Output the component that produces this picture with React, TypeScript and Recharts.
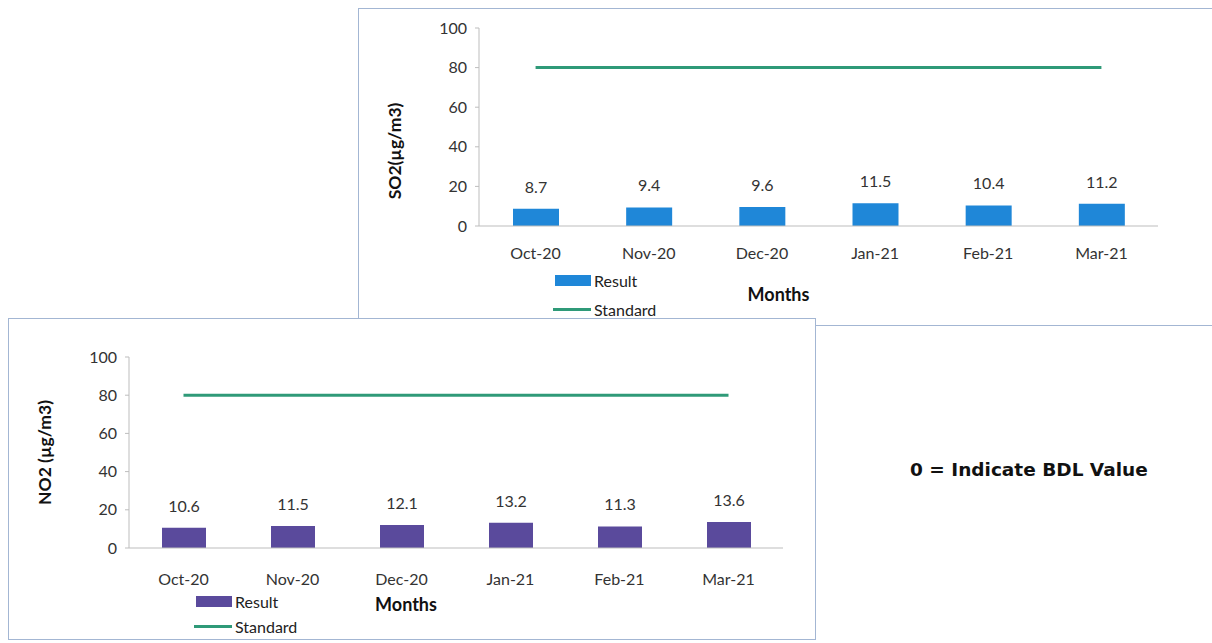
import React from 'react'
import {
  ComposedChart,
  Bar,
  Line,
  XAxis,
  YAxis,
  LabelList,
} from 'recharts'

const months = ['Oct-20', 'Nov-20', 'Dec-20', 'Jan-21', 'Feb-21', 'Mar-21']
const so2Result = [8.7, 9.4, 9.6, 11.5, 10.4, 11.2]
const no2Result = [10.6, 11.5, 12.1, 13.2, 11.3, 13.6]
const standardLimit = [80, 80, 80, 80, 80, 80]
const yTicks = [0, 20, 40, 60, 80, 100]

const FONT = 'Lato, "Noto Sans", sans-serif'
const GREEN = '#2f9a78'
const BORDER = '#a3b6d3'

interface ChartProps {
  values: number[]
  barColor: string
  yLabel: string
  width: number
  height: number
  top: number
  right: number
  axisHeight: number
  barSize: number
  yLabelDy: number
  monthsDx: number
  monthsOffset: number
  tickMargin: number
  legendLeft: number
  legendTop: number
  legendGap: number
}

function PollutantChart(p: ChartProps) {
  const data = months.map((m, i) => ({
    month: m,
    result: p.values[i],
    standard: standardLimit[i],
  }))

  return (
    <div style={{ position: 'relative', width: p.width, height: p.height }}>
      <ComposedChart
        width={p.width}
        height={p.height}
        data={data}
        margin={{ top: p.top, right: p.right, bottom: 0, left: 0 }}
      >
        <XAxis
          dataKey="month"
          stroke="#bdbdbd"
          tickLine={false}
          tick={{ fill: '#333', fontSize: 16, fontFamily: FONT }}
          tickMargin={p.tickMargin}
          height={p.axisHeight}
          label={{
            value: 'Months',
            position: 'insideBottom',
            offset: p.monthsOffset,
            dx: p.monthsDx,
            style: { fill: '#111', fontSize: 18, fontWeight: 700, fontFamily: FONT },
          }}
        />
        <YAxis
          domain={[0, 100]}
          ticks={yTicks}
          width={120}
          stroke="#bdbdbd"
          tickSize={4}
          tickMargin={8}
          tick={{ fill: '#333', fontSize: 16, fontFamily: FONT }}
          label={{
            value: p.yLabel,
            angle: -90,
            position: 'center',
            dx: -24,
            dy: p.yLabelDy,
            style: { fill: '#111', fontSize: 17.5, fontWeight: 700, fontFamily: FONT },
          }}
        />
        <Bar dataKey="result" name="Result" fill={p.barColor} barSize={p.barSize} isAnimationActive={false}>
          <LabelList dataKey="result" position="top" offset={16} style={{ fill: '#333', fontSize: 16, fontFamily: FONT }} />
        </Bar>
        <Line
          dataKey="standard"
          name="Standard"
          stroke={GREEN}
          strokeWidth={3}
          dot={false}
          isAnimationActive={false}
        />
      </ComposedChart>

      {/* legend */}
      <div
        style={{
          position: 'absolute',
          left: p.legendLeft,
          top: p.legendTop,
          fontFamily: FONT,
          fontSize: 16,
          color: '#222',
          lineHeight: `${p.legendGap}px`,
        }}
      >
        <div style={{ display: 'flex', alignItems: 'center' }}>
          <span style={{ display: 'inline-block', width: 36, height: 11, background: p.barColor, marginLeft: 2, marginRight: 3 }} />
          Result
        </div>
        <div style={{ display: 'flex', alignItems: 'center' }}>
          <span style={{ display: 'inline-block', width: 38, height: 3, background: GREEN, marginRight: 3 }} />
          Standard
        </div>
      </div>
    </div>
  )
}

export default function App() {
  return (
    <div
      style={{
        position: 'fixed',
        left: 0,
        top: 0,
        width: 1212,
        height: 643,
        background: '#fff',
        overflow: 'hidden',
      }}
    >
      {/* SO2 panel */}
      <div
        style={{
          position: 'absolute',
          left: 358,
          top: 8,
          width: 870,
          height: 316,
          border: `1.5px solid ${BORDER}`,
          background: '#fff',
        }}
      >
        <PollutantChart
          values={so2Result}
          barColor="#1f87d8"
          yLabel="SO2(µg/m3)"
          width={854}
          height={316}
          top={19}
          right={55}
          axisHeight={99}
          barSize={46}
          yLabelDy={24}
          monthsDx={-40}
          monthsOffset={24}
          tickMargin={16}
          legendLeft={194}
          legendTop={257}
          legendGap={29}
        />
      </div>

      {/* NO2 panel */}
      <div
        style={{
          position: 'absolute',
          left: 8,
          top: 318,
          width: 806,
          height: 320,
          border: `1.5px solid ${BORDER}`,
          background: '#fff',
        }}
      >
        <PollutantChart
          values={no2Result}
          barColor="#5a4a9c"
          yLabel="NO2 (µg/m3)"
          width={806}
          height={320}
          top={38}
          right={32}
          axisHeight={91}
          barSize={44}
          yLabelDy={0}
          monthsDx={-50}
          monthsOffset={28}
          tickMargin={20}
          legendLeft={185}
          legendTop={270}
          legendGap={25}
        />
      </div>

      <div
        style={{
          position: 'absolute',
          left: 910,
          top: 459,
          fontFamily: '"DejaVu Sans", Verdana, sans-serif',
          fontWeight: 700,
          fontSize: 18.5,
          color: '#111',
        }}
      >
        0 = Indicate BDL Value
      </div>
    </div>
  )
}
